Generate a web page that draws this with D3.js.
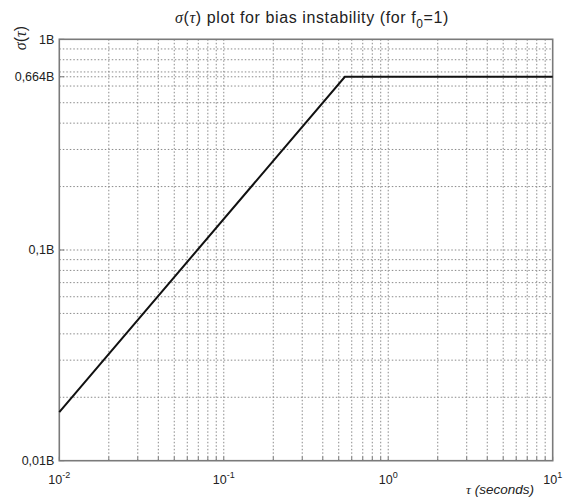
<!DOCTYPE html>
<html>
<head>
<meta charset="utf-8">
<script src="https://cdn.jsdelivr.net/npm/d3@7"></script>
<style>
  body { margin: 0; background: #fff; }
  text { font-family: "Liberation Sans", Arial, sans-serif; fill: #222; }
</style>
</head>
<body>
<div id="chart"></div>
<script>
// values
var tau = [0.01, 0.545, 10];
var sigma = [0.0170, 0.664, 0.664];
var yTicks = [0.01, 0.1, 0.664, 1];
var yTickLabels = ["0,01B", "0,1B", "0,664B", "1B"];
var xTicks = [0.01, 0.1, 1, 10];
var xTickExps = ["-2", "-1", "0", "1"];

var W = 563, H = 497;
var margin = {top: 39.3, right: 10.3, bottom: 36.3, left: 59.3};
var width = W - margin.left - margin.right;
var height = H - margin.top - margin.bottom;

var svg = d3.select("#chart").append("svg")
    .attr("width", W)
    .attr("height", H);

var g = svg.append("g")
    .attr("transform", "translate(" + margin.left + "," + margin.top + ")");

var x = d3.scaleLog().domain([0.01, 10]).range([0, width]);
var y = d3.scaleLog().domain([0.01, 1]).range([height, 0]);

// grid: minor decades plus the custom ticks
var xGrid = x.ticks().filter(function(d) { return d > 0.01 && d < 10; });
var yGrid = y.ticks().concat([0.664]).filter(function(d) { return d > 0.01 && d < 1; });

g.selectAll(".gx").data(xGrid).enter().append("line")
    .attr("x1", function(d) { return x(d); })
    .attr("x2", function(d) { return x(d); })
    .attr("y1", 0).attr("y2", height)
    .attr("stroke", "#8a8a8a").attr("stroke-width", 1)
    .attr("stroke-dasharray", "1.5,2");

g.selectAll(".gy").data(yGrid).enter().append("line")
    .attr("y1", function(d) { return y(d); })
    .attr("y2", function(d) { return y(d); })
    .attr("x1", 0).attr("x2", width)
    .attr("stroke", "#8a8a8a").attr("stroke-width", 1)
    .attr("stroke-dasharray", "1.5,2");

// small inner ticks
g.selectAll(".tx").data(x.ticks()).enter().append("line")
    .attr("x1", function(d) { return x(d); })
    .attr("x2", function(d) { return x(d); })
    .attr("y1", height).attr("y2", height - 4)
    .attr("stroke", "#777");
g.selectAll(".ty").data(yTicks).enter().append("line")
    .attr("y1", function(d) { return y(d); })
    .attr("y2", function(d) { return y(d); })
    .attr("x1", 0).attr("x2", 5)
    .attr("stroke", "#777");

// frame
g.append("rect")
    .attr("width", width).attr("height", height)
    .attr("fill", "none")
    .attr("stroke", "#7a7a7a").attr("stroke-width", 1.6);

// the curve
var line = d3.line()
    .x(function(d, i) { return x(tau[i]); })
    .y(function(d) { return y(d); });

g.append("path")
    .datum(sigma)
    .attr("d", line)
    .attr("fill", "none")
    .attr("stroke", "#111")
    .attr("stroke-width", 2);

// y tick labels
g.selectAll(".yl").data(yTicks).enter().append("text")
    .attr("x", -5)
    .attr("y", function(d) { return y(d); })
    .attr("dy", "0.35em")
    .attr("text-anchor", "end")
    .attr("font-size", 12.5)
    .text(function(d, i) { return yTickLabels[i]; });

// x tick labels as 10^n
var xl = g.selectAll(".xl").data(xTicks).enter().append("text")
    .attr("x", function(d) { return x(d); })
    .attr("y", height + 23)
    .attr("text-anchor", "middle")
    .attr("font-size", 12.5);
xl.append("tspan").text("10");
xl.append("tspan")
    .attr("dy", -6)
    .attr("font-size", 9)
    .text(function(d, i) { return xTickExps[i]; });

// title
var title = svg.append("text")
    .attr("x", 312)
    .attr("y", 23)
    .attr("text-anchor", "middle")
    .attr("font-size", 16)
    .attr("letter-spacing", 0.6);
title.append("tspan").attr("font-family", "Liberation Serif, serif").attr("font-style", "italic").text("σ");
title.append("tspan").text("(");
title.append("tspan").attr("font-family", "Liberation Serif, serif").attr("font-style", "italic").text("τ");
title.append("tspan").text(") plot for bias instability  (for f");
title.append("tspan").attr("dy", 5).attr("font-size", 12).text("0");
title.append("tspan").attr("dy", -5).text("=1)");

// x label
var xlab = svg.append("text")
    .attr("x", 500)
    .attr("y", 494)
    .attr("text-anchor", "middle")
    .attr("font-size", 13.5)
    .attr("font-style", "italic");
xlab.append("tspan").attr("font-family", "Liberation Serif, serif").text("τ");
xlab.append("tspan").text(" (seconds)");

// y label, rotated, sits near the top
var ylab = svg.append("text")
    .attr("transform", "translate(26,38) rotate(-90)")
    .attr("text-anchor", "middle")
    .attr("font-size", 16);
ylab.append("tspan").attr("font-family", "Liberation Serif, serif").attr("font-style", "italic").text("σ");
ylab.append("tspan").text("(");
ylab.append("tspan").attr("font-family", "Liberation Serif, serif").attr("font-style", "italic").text("τ");
ylab.append("tspan").text(")");
</script>
</body>
</html>
